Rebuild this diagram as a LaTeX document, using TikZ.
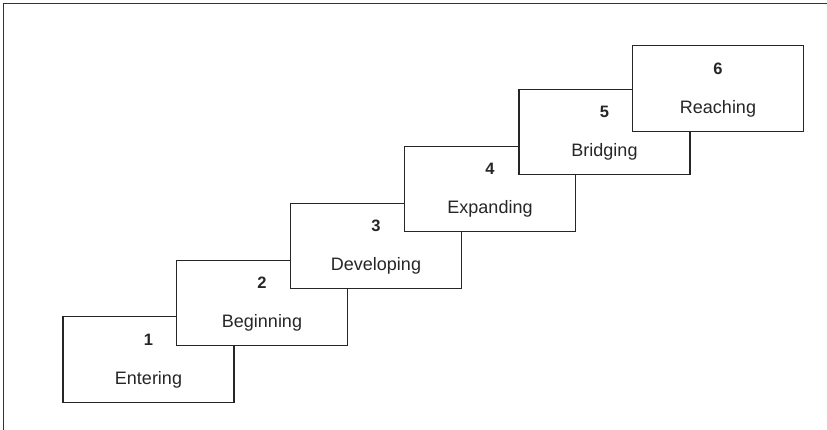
\documentclass[tikz,border=0pt]{standalone}
\usepackage{fontspec}
\setmainfont{Liberation Sans}
\begin{document}
\begin{tikzpicture}[x=1pt,y=-1pt,
  stepbox/.style={draw=black!85,line width=1.2pt,fill=white,minimum width=171pt,minimum height=85.5pt,inner sep=0pt},
  numtext/.style={font=\fontsize{16.5}{18}\selectfont\bfseries,text=black!85},
  labtext/.style={font=\fontsize{18}{20}\selectfont,text=black!85},
  frameline/.style={draw=black!80,line width=1.3pt}]
\useasboundingbox (0,0) rectangle (827,430);
\draw[frameline] (3.3,432) -- (3.3,3.3) -- (830,3.3);
\foreach \i/\x/\y/\lab in {1/148.5/359.5/Entering,2/262/303/Beginning,3/376/246/Developing,4/490/189/Expanding,5/604.5/132/Bridging,6/718/88.5/Reaching}{
  \node[stepbox] (b\i) at (\x,\y) {};
  \node[numtext] (n\i) at ([yshift=20pt]b\i.center) {\i};
  \node[labtext] (l\i) at ([yshift=-20pt]b\i.center) {\lab};
}
\end{tikzpicture}
\end{document}
